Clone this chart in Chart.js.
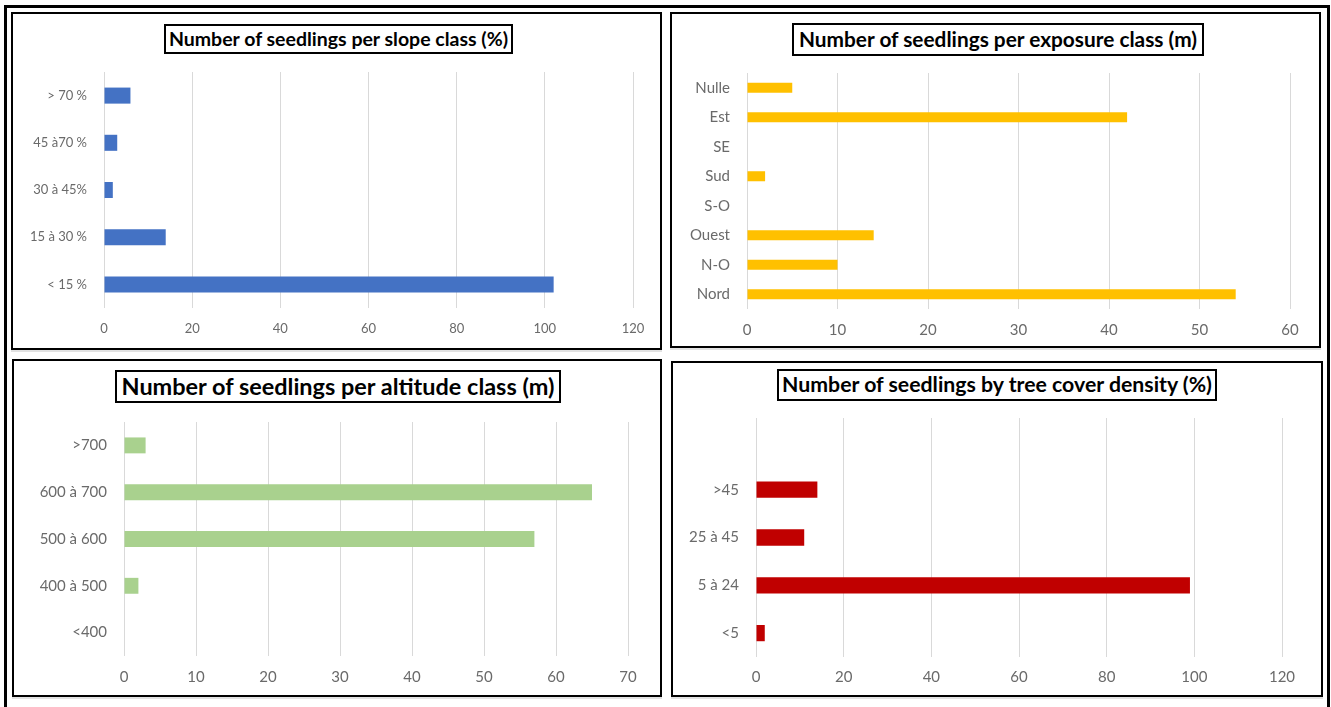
<!DOCTYPE html>
<html>
<head>
<meta charset="utf-8">
<script src="https://cdn.jsdelivr.net/npm/chart.js@4.4.1/dist/chart.umd.min.js"></script>
<style>
  html, body { margin: 0; padding: 0; background: #fff; width: 1331px; height: 707px; overflow: hidden; }
  body { position: relative; font-family: Lato, "Open Sans", sans-serif; }
  #frame { position: absolute; left: 4px; top: 5px; width: 1326px; height: 730px; border: 3px solid #000; box-sizing: border-box; }
  .panel { position: absolute; border: 2px solid #000; box-sizing: border-box; background: #fff; box-shadow: 0 2px 0 #e2e2e2; }
  .panel canvas { position: absolute; left: 0; top: 0; }
  .title { position: absolute; border: 2px solid #000; box-sizing: border-box; background: #fff;
           display: flex; align-items: center; justify-content: center; font-weight: bold; color: #000; white-space: nowrap; }
  .title span { display: inline-block; line-height: 1; }
</style>
</head>
<body>
<div id="frame"></div>

<script>
// ---- data ----
const slopeLabels = ['> 70 %', '45 à70 %', '30 à 45%', '15 à 30 %', '< 15 %'];
const slopeValues = [6, 3, 2, 14, 102];
const slopeTicks = { max: 120, step: 20 };

const exposureLabels = ['Nulle', 'Est', 'SE', 'Sud', 'S-O', 'Ouest', 'N-O', 'Nord'];
const exposureValues = [5, 42, 0, 2, 0, 14, 10, 54];
const exposureTicks = { max: 60, step: 10 };

const altitudeLabels = ['>700', '600 à 700', '500 à 600', '400 à 500', '<400'];
const altitudeValues = [3, 65, 57, 2, 0];
const altitudeTicks = { max: 70, step: 10 };

const coverLabels = ['', '>45', '25 à 45', '5 à 24', '<5'];
const coverValues = [null, 14, 11, 99, 2];
const coverTicks = { max: 120, step: 20 };

const titles = {
  slope: 'Number of seedlings per slope class (%)',
  exposure: 'Number of seedlings per exposure class (m)',
  altitude: 'Number of seedlings per altitude class (m)',
  cover: 'Number of seedlings by tree cover density (%)'
};

// ---- layout (page pixels) ----
const panels = [
  { key: 'slope', labels: slopeLabels, values: slopeValues, ticks: slopeTicks, color: '#4472C4',
    box: { x: 11, y: 12, w: 651, h: 338 }, plot: { l: 104, t: 72, r: 633, b: 308 },
    title: { x: 164, y: 24, w: 349, h: 30, text: 339 }, font: 13, xPad: 13 },
  { key: 'exposure', labels: exposureLabels, values: exposureValues, ticks: exposureTicks, color: '#FFC000',
    box: { x: 670, y: 12, w: 651, h: 336 }, plot: { l: 747, t: 73, r: 1290, b: 309 },
    title: { x: 792, y: 23, w: 412, h: 33, text: 398 }, font: 15, xPad: 12 },
  { key: 'altitude', labels: altitudeLabels, values: altitudeValues, ticks: altitudeTicks, color: '#A9D18E',
    box: { x: 12, y: 359, w: 650, h: 338 }, plot: { l: 124, t: 422, r: 628, b: 656 },
    title: { x: 115, y: 370, w: 446, h: 33, text: 433 }, font: 15, xPad: 12 },
  { key: 'cover', labels: coverLabels, values: coverValues, ticks: coverTicks, color: '#C00000',
    box: { x: 671, y: 361, w: 652, h: 336 }, plot: { l: 756, t: 418, r: 1282, b: 657 },
    title: { x: 777, y: 369, w: 440, h: 32, text: 430 }, font: 15, xPad: 11 }
];

const BORDER = 2;
const TICK_COLOR = '#6a6a6a';

panels.forEach(p => {
  const div = document.createElement('div');
  div.className = 'panel';
  Object.assign(div.style, { left: p.box.x + 'px', top: p.box.y + 'px', width: p.box.w + 'px', height: p.box.h + 'px' });
  document.body.appendChild(div);

  const cx = p.box.x + BORDER, cy = p.box.y + BORDER;
  const cw = p.box.w - 2 * BORDER, ch = p.box.h - 2 * BORDER;
  const canvas = document.createElement('canvas');
  canvas.width = cw; canvas.height = ch;
  canvas.style.width = cw + 'px'; canvas.style.height = ch + 'px';
  div.appendChild(canvas);

  const tickFont = { family: 'Lato, "Open Sans", sans-serif', size: p.font };

  new Chart(canvas, {
    type: 'bar',
    data: {
      labels: p.labels,
      datasets: [{
        data: p.values,
        backgroundColor: p.color,
        borderWidth: 0,
        barPercentage: 0.34,
        categoryPercentage: 1
      }]
    },
    options: {
      indexAxis: 'y',
      responsive: false,
      animation: false,
      devicePixelRatio: 1,
      layout: {
        padding: { left: 0, top: p.plot.t - cy, right: (cx + cw) - p.plot.r, bottom: 0 }
      },
      plugins: { legend: { display: false }, title: { display: false }, tooltip: { enabled: false } },
      scales: {
        x: {
          type: 'linear',
          min: 0,
          max: p.ticks.max,
          grid: { color: '#d9d9d9', lineWidth: 1, drawTicks: false },
          border: { display: false },
          ticks: { stepSize: p.ticks.step, color: TICK_COLOR, font: tickFont, padding: p.xPad, maxRotation: 0 },
          afterFit: s => { s.height = (cy + ch) - p.plot.b; }
        },
        y: {
          type: 'category',
          grid: { display: false, drawTicks: false },
          border: { display: false },
          ticks: { color: TICK_COLOR, font: tickFont, padding: 17, autoSkip: false },
          afterFit: s => { s.width = p.plot.l - cx; }
        }
      }
    }
  });

  // chart heading in a framed box
  const t = document.createElement('div');
  t.className = 'title';
  Object.assign(t.style, { left: p.title.x + 'px', top: p.title.y + 'px', width: p.title.w + 'px', height: p.title.h + 'px' });
  const span = document.createElement('span');
  span.textContent = titles[p.key];
  span.style.fontSize = '20px';
  t.appendChild(span);
  document.body.appendChild(t);
  const w = span.getBoundingClientRect().width;
  span.style.fontSize = (20 * p.title.text / w).toFixed(2) + 'px';
});
</script>
</body>
</html>
